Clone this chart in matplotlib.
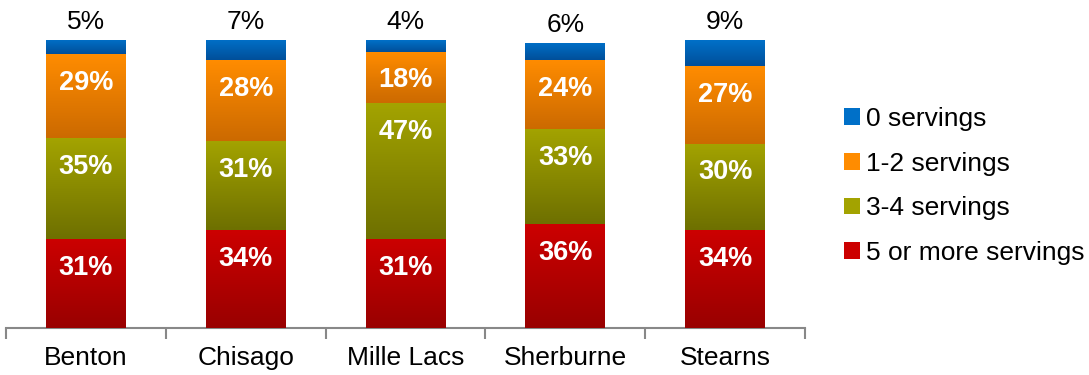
import numpy as np
import matplotlib.pyplot as plt
from matplotlib.colors import LinearSegmentedColormap

plt.rcParams['font.family'] = ['Liberation Sans', 'DejaVu Sans']

counties = ["Benton", "Chisago", "Mille Lacs", "Sherburne", "Stearns"]
five_plus = [31, 34, 31, 36, 34]
three_four = [35, 31, 47, 33, 30]
one_two = [29, 28, 18, 24, 27]
zero = [5, 7, 4, 6, 9]

series = [
    ("5 or more servings", five_plus, "#cc0000", "#990000"),
    ("3-4 servings", three_four, "#a3a300", "#6e7000"),
    ("1-2 servings", one_two, "#ff8c00", "#cc6a00"),
    ("0 servings", zero, "#0070c8", "#004f9a"),
]

fig = plt.figure(figsize=(10.89, 3.75), dpi=100)
ax = fig.add_axes([6 / 1089, 47 / 375, 799 / 1089, 288 / 375])

x = np.arange(len(counties))
width = 0.5
grad = np.linspace(1, 0, 64).reshape(-1, 1)
bottom = np.zeros(len(counties))

for name, vals, top_c, bot_c in series:
    vals = np.array(vals, dtype=float)
    cmap = LinearSegmentedColormap.from_list(name, [bot_c, top_c])
    bars = ax.bar(x, vals, width, bottom=bottom, color=top_c, label=name, zorder=2)
    for i, b in enumerate(bars):
        # vertical gradient inside each segment
        im = ax.imshow(grad, cmap=cmap, aspect="auto", zorder=3,
                       extent=[b.get_x(), b.get_x() + width, bottom[i], bottom[i] + vals[i]],
                       vmin=0, vmax=1)
        im.set_clip_path(b)
        top = bottom[i] + vals[i]
        if name == "0 servings":
            ax.text(x[i], top + 6.2, f"{int(vals[i])}%", ha="center", va="center",
                    fontsize=19, color="black", clip_on=False)
        else:
            ax.text(x[i], top - 10, f"{int(vals[i])}%", ha="center", va="center",
                    fontsize=19.5, fontweight="bold", color="white", zorder=4)
    bottom += vals

ax.set_xlim(-0.5, len(counties) - 0.5)
ax.set_ylim(0, 100)
for s in ["top", "right", "left"]:
    ax.spines[s].set_visible(False)
ax.spines["bottom"].set_color("#888888")
ax.spines["bottom"].set_linewidth(1.5)
ax.set_yticks([])
ax.set_xticks(x)
ax.set_xticklabels(counties, fontsize=19)
ax.tick_params(axis="x", which="major", length=0, pad=13)
ax.set_xticks(np.arange(-0.5, len(counties)), minor=True)
ax.tick_params(axis="x", which="minor", length=8, width=1.5, color="#888888")

handles, labels = ax.get_legend_handles_labels()
fig.legend(handles[::-1], labels[::-1], loc="center left",
           bbox_to_anchor=(820 / 1089, (375 - 186) / 375),
           frameon=False, fontsize=19, handlelength=0.6, handleheight=0.6,
           handletextpad=0.25, labelspacing=0.78)

fig.savefig("out.png", dpi=100)
